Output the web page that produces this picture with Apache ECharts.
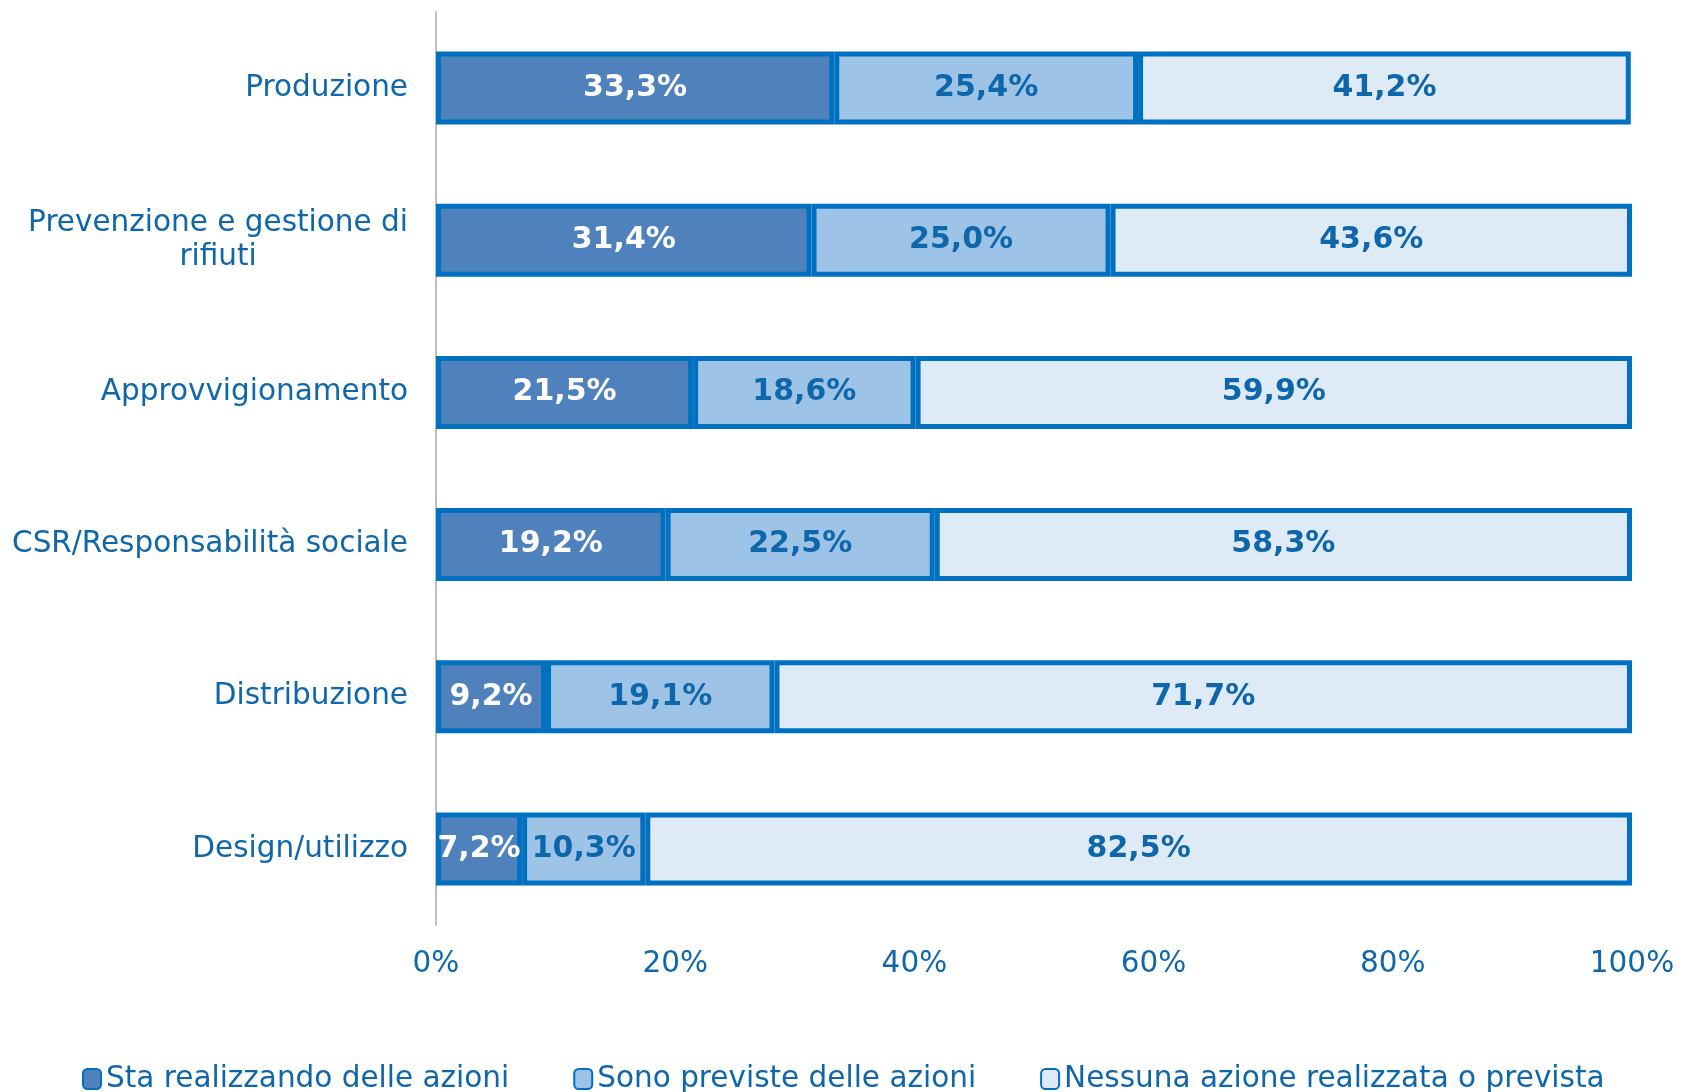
<!DOCTYPE html>
<html>
<head>
<meta charset="utf-8">
<style>
  html, body { margin: 0; padding: 0; background: #fff; }
  #chart { width: 1683px; height: 1092px; }
</style>
<script src="https://cdn.jsdelivr.net/npm/echarts@6/dist/echarts.min.js"></script>
</head>
<body>
<div id="chart"></div>
<script>
const categories = ['Produzione', 'Prevenzione e gestione di rifiuti', 'Approvvigionamento', 'CSR/Responsabilità sociale', 'Distribuzione', 'Design/utilizzo']
const seriesNames = ['Sta realizzando delle azioni', 'Sono previste delle azioni', 'Nessuna azione realizzata o prevista']
const inCorso = [33.3, 31.4, 21.5, 19.2, 9.2, 7.2]
const previste = [25.4, 25.0, 18.6, 22.5, 19.1, 10.3]
const nessuna = [41.2, 43.6, 59.9, 58.3, 71.7, 82.5]
const xTicks = [0, 20, 40, 60, 80, 100]

const textColor = '#0F67AB'
const borderColor = '#0070C0'
const fills = ['#4F81BD', '#9DC3E6', '#DEEBF7']
const labelColors = ['#ffffff', '#0F67AB', '#0F67AB']
const font = 'DejaVu Sans, Verdana, sans-serif'
const fs = 29.5

const fmt = v => v.toFixed(1).replace('.', ',') + '%'

const chart = echarts.init(document.getElementById('chart'))
chart.setOption({
  animation: false,
  textStyle: { fontFamily: font },
  grid: { left: 436, right: 51, top: 12, bottom: 167 },
  legend: {
    data: seriesNames,
    left: 77,
    top: 1059,
    itemWidth: 18,
    itemHeight: 20,
    itemGap: 64,
    textStyle: { color: textColor, fontSize: fs, fontFamily: font }
  },
  xAxis: {
    type: 'value',
    min: 0,
    max: 100,
    interval: 20,
    axisLine: { show: false },
    axisTick: { show: false },
    splitLine: { show: false },
    axisLabel: {
      color: textColor,
      fontSize: fs,
      margin: 24,
      formatter: v => xTicks.includes(v) ? v + '%' : ''
    }
  },
  yAxis: {
    type: 'category',
    data: categories,
    inverse: true,
    axisTick: { show: false },
    axisLine: { show: true, lineStyle: { color: '#BFBFBF', width: 2 } },
    axisLabel: {
      color: textColor,
      fontSize: fs,
      margin: 28,
      formatter: v => v === 'Prevenzione e gestione di rifiuti'
        ? '{a|Prevenzione e gestione di}\n{b|rifiuti}'
        : v,
      rich: {
        a: { color: textColor, fontSize: fs, lineHeight: 34, fontFamily: font },
        b: { color: textColor, fontSize: fs, lineHeight: 34, fontFamily: font, align: 'center' }
      }
    }
  },
  series: [inCorso, previste, nessuna].map((data, i) => ({
    name: seriesNames[i],
    type: 'bar',
    stack: 'tot',
    barWidth: '48%',
    data: data,
    itemStyle: { color: fills[i], borderColor: borderColor, borderWidth: 5 },
    label: {
      show: true,
      position: 'inside',
      color: labelColors[i],
      fontSize: 30,
      fontWeight: 'bold',
      fontFamily: font,
      formatter: p => fmt(p.value)
    }
  }))
})
</script>
</body>
</html>
